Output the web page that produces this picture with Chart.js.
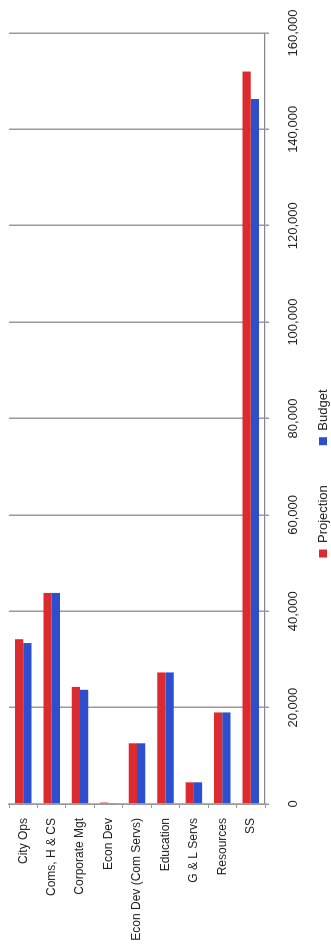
<!DOCTYPE html>
<html>
<head>
<meta charset="utf-8">
<script src="https://cdn.jsdelivr.net/npm/chart.js@4/dist/chart.umd.min.js"></script>
<style>
  html, body { margin: 0; padding: 0; background: #ffffff; overflow: hidden; }
  body { width: 331px; height: 947px; position: relative; }
  /* The chart is laid out landscape and turned a quarter turn so it reads bottom-to-top */
  #wrap {
    position: absolute; left: 0; top: 0;
    width: 947px; height: 331px;
    transform-origin: 0 0;
    transform: translate(0, 947px) rotate(-90deg);
  }
</style>
</head>
<body>
<div id="wrap"><canvas id="chart" width="947" height="331"></canvas></div>
<script>
const categories = ['City Ops', 'Coms, H & CS', 'Corporate Mgt', 'Econ Dev',
  'Econ Dev (Com Servs)', 'Education', 'G & L Servs', 'Resources', 'SS'];
const projection = [34200, 43800, 24300, 300, 12600, 27300, 4500, 19000, 152000];
const budget = [33400, 43800, 23700, 200, 12600, 27300, 4500, 19000, 146300];
const tickLabels = ['0', '20,000', '40,000', '60,000', '80,000', '100,000', '120,000', '140,000', '160,000'];

const FONT = "'Liberation Sans', Arial, sans-serif";

new Chart(document.getElementById('chart'), {
  type: 'bar',
  data: {
    labels: categories,
    datasets: [
      { label: 'Projection', data: projection, backgroundColor: '#dc2b30', borderWidth: 0 },
      { label: 'Budget', data: budget, backgroundColor: '#2d4fce', borderWidth: 0 }
    ]
  },
  options: {
    indexAxis: 'y',
    responsive: false,
    animation: false,
    devicePixelRatio: 1,
    categoryPercentage: 0.58,
    barPercentage: 1.0,
    layout: { padding: { top: 9, right: 0, left: 0, bottom: -8.5 } },
    plugins: {
      tooltip: { enabled: false },
      legend: {
        position: 'bottom',
        labels: {
          boxWidth: 8, boxHeight: 8, padding: 40,
          color: '#222', font: { family: FONT, size: 13 }
        }
      }
    },
    scales: {
      x: {
        min: 0, max: 160000,
        // value labels sit below the legend band, so they are placed with mirror offsets
        afterFit: s => { s.height = 11.5; s.paddingRight = 33; },
        ticks: {
          stepSize: 20000,
          mirror: true,
          padding: -35.8,
          color: '#222',
          font: { family: FONT, size: 13 },
          maxRotation: 0,
          callback: (v, i) => tickLabels[i]
        },
        grid: { color: '#9a9a9a', lineWidth: 1.5, tickLength: 4 },
        border: { color: '#8a8494', width: 1.2 }
      },
      y: {
        afterFit: s => { s.width = 143; s.paddingTop = 0; s.paddingBottom = 0; },
        ticks: { padding: 10, color: '#222', font: { family: FONT, size: 12 } },
        grid: { drawOnChartArea: false, tickLength: 4, color: '#9a9a9a' },
        border: { color: '#9a9a9a', width: 1.5 }
      }
    }
  }
});
</script>
</body>
</html>
